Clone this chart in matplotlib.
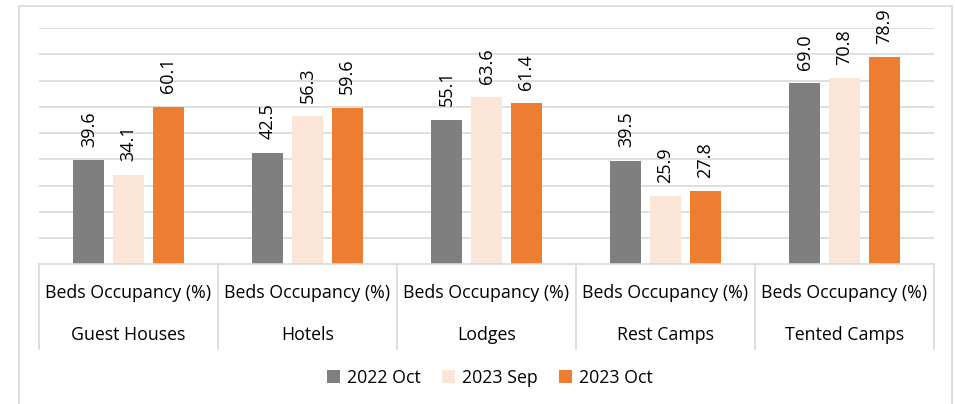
import matplotlib
matplotlib.use("Agg")
import matplotlib.pyplot as plt
import matplotlib.transforms as mtransforms
from matplotlib.patches import Rectangle
import numpy as np

categories = ["Guest Houses", "Hotels", "Lodges", "Rest Camps", "Tented Camps"]
sub_label = "Beds Occupancy (%)"
series_names = ["2022 Oct", "2023 Sep", "2023 Oct"]
oct_2022 = [39.6, 42.5, 55.1, 39.5, 69.0]
sep_2023 = [34.1, 56.3, 63.6, 25.9, 70.8]
oct_2023 = [60.1, 59.6, 61.4, 27.8, 78.9]
colors = ["#7F7F7F", "#FBE5D6", "#ED7D31"]

W, H = 955, 404
fig = plt.figure(figsize=(W / 100, H / 100), dpi=100)
plt.rcParams['font.family'] = ['Open Sans', 'DejaVu Sans']

# outer frame
fig.patches.append(Rectangle((19 / W, -0.1), (952 - 19) / W, 1 - 6 / H + 0.1,
                             transform=fig.transFigure, fill=False,
                             edgecolor="#D9D9D9", linewidth=1.2))

x0, x1, ytop, ybase = 39, 934, 28, 264.3
ax = fig.add_axes([x0 / W, (H - ybase) / H, (x1 - x0) / W, (ybase - ytop) / H])
ax.set_xlim(0, len(categories))
ax.set_ylim(0, 90)
ax.set_yticks(np.arange(10, 91, 10))
ax.yaxis.grid(True, color="#D9D9D9", linewidth=1.2)
ax.set_axisbelow(True)
ax.tick_params(left=False, labelleft=False, bottom=False, labelbottom=False)
for s in ax.spines.values():
    s.set_visible(False)

bw = 0.173
step = 0.222
xc = np.arange(len(categories)) + 0.5
all_series = [oct_2022, sep_2023, oct_2023]
for i, (vals, name, c) in enumerate(zip(all_series, series_names, colors)):
    xs = xc + (i - 1) * step
    ax.bar(xs, vals, width=bw, color=c, label=name, zorder=2)
    for x, v in zip(xs, vals):
        ax.annotate(f"{v:.1f}", (x, v), xytext=(0, 9.6), textcoords="offset points",
                    rotation=90, ha="center", va="bottom", fontsize=13,
                    color="#000000")

# baseline and category separators
trans = mtransforms.blended_transform_factory(ax.transData, ax.transAxes)
pix = (ybase - ytop)
ax.plot([0, len(categories)], [0, 0], transform=trans, color="#D9D9D9",
        linewidth=1.2, clip_on=False, zorder=3)
sep_bottom = -(349 - ybase) / pix
for k in range(len(categories) + 1):
    ax.plot([k, k], [0, sep_bottom], transform=trans, color="#D9D9D9",
            linewidth=1.2, clip_on=False)

y_sub = -(293 - ybase) / pix
y_cat = -(335 - ybase) / pix
for k, cat in enumerate(categories):
    ax.text(k + 0.5, y_sub, sub_label, transform=trans, ha="center", va="center",
            fontsize=12.8, color="#000000")
    ax.text(k + 0.5, y_cat, cat, transform=trans, ha="center", va="center",
            fontsize=12.8, color="#000000")

leg = fig.legend(loc="center", bbox_to_anchor=(490 / W, 1 - 378 / H), ncol=3,
                 frameon=False, fontsize=12.8, handlelength=0.72, handleheight=0.72,
                 handletextpad=0.4, columnspacing=1.2)

fig.savefig("out.png", dpi=100)
